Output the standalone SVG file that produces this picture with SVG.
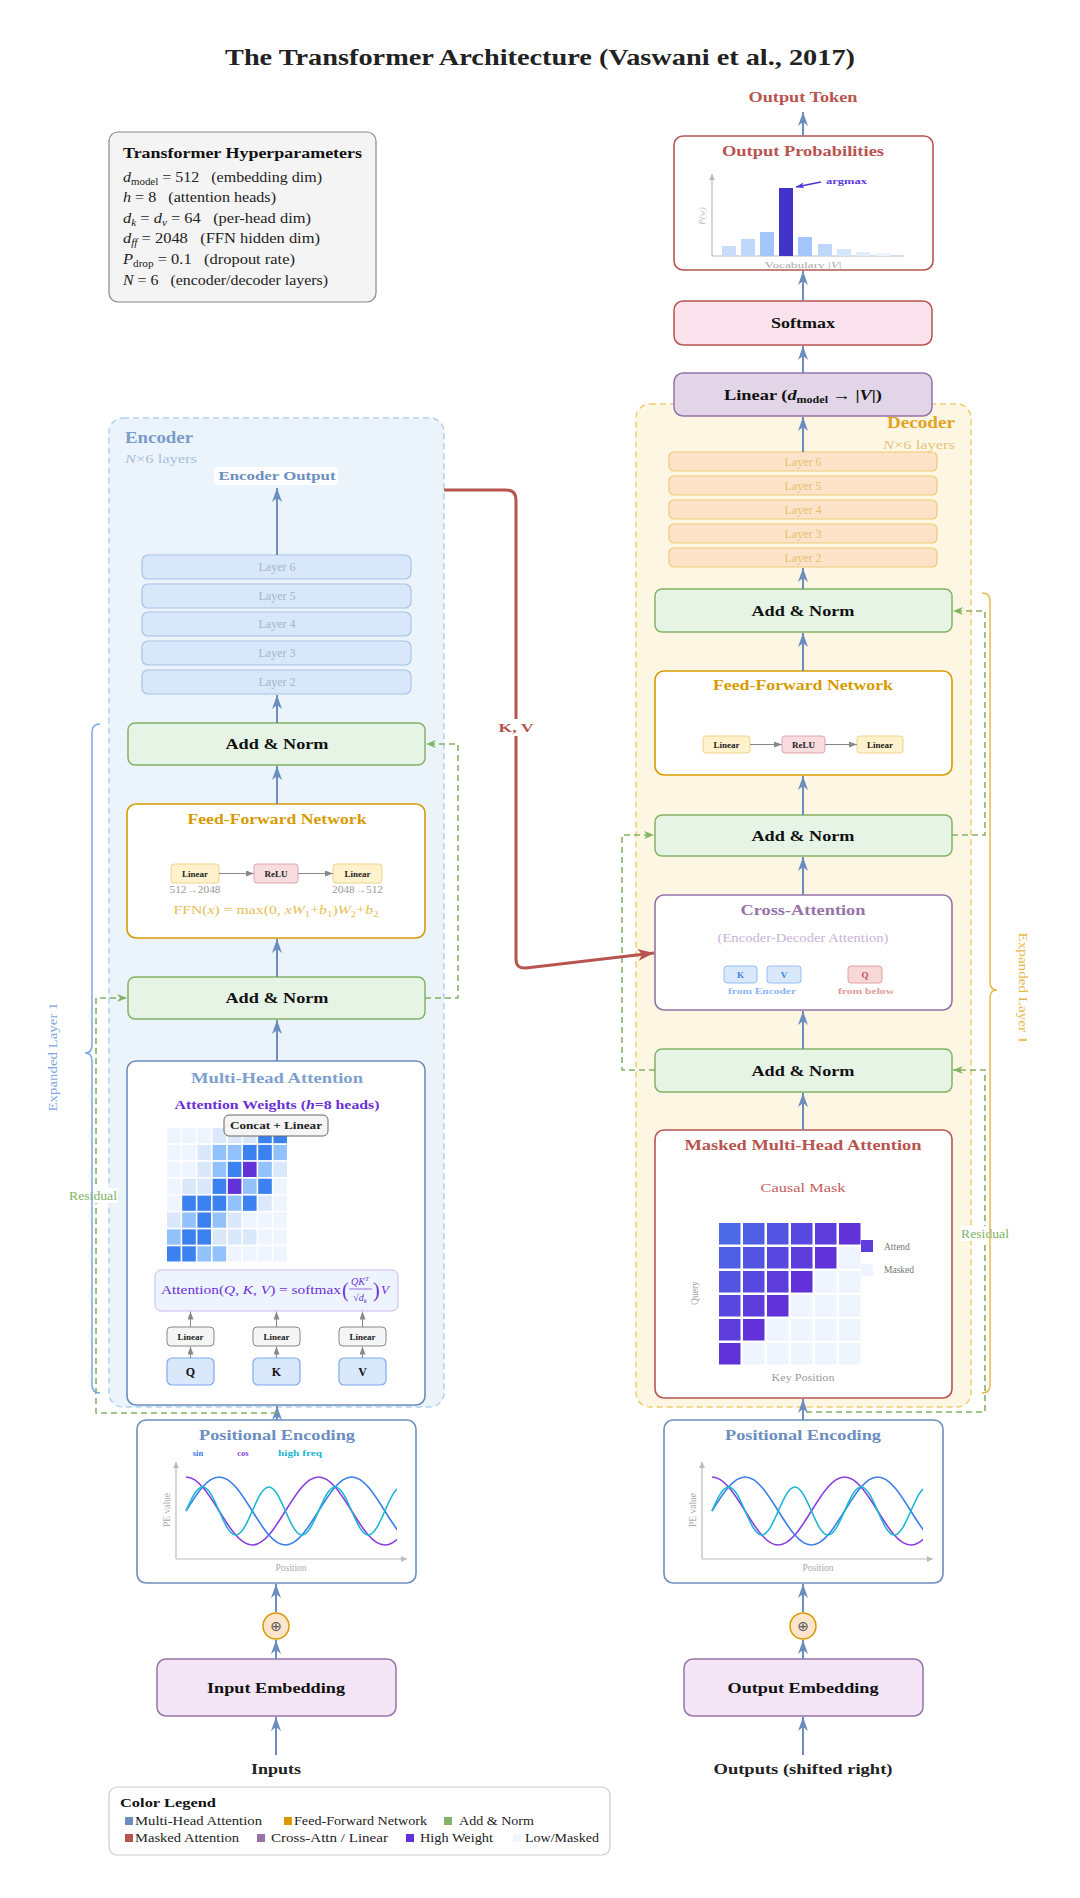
<svg xmlns="http://www.w3.org/2000/svg" width="1080" height="1898" viewBox="0 0 1080 1898">
<style>
text{font-family:"Liberation Serif","DejaVu Serif",serif;}
.b{font-weight:bold;}
.it{font-style:italic;}
.mid{text-anchor:middle;}
.flow{stroke:#6c8ebf;stroke-width:2;fill:none;marker-end:url(#ab);}
.res{stroke:#82b366;stroke-width:1.6;fill:none;stroke-dasharray:6,4;marker-end:url(#ag);}
.mini{stroke:#888;stroke-width:1;fill:none;marker-end:url(#agr);}
.an{fill:#e6f4e6;stroke:#82b366;stroke-width:1.5;}
.wb{fill:#fff;stroke-width:1.6;}
.lyE{fill:#d8e7fa;stroke:#a9c4e8;stroke-width:1.2;}
.lyD{fill:#fde3c8;stroke:#f1c877;stroke-width:1.2;}
.lin{fill:#fff2cc;stroke:#f0d38a;stroke-width:1;}
.relu{fill:#f8dde0;stroke:#e3a3aa;stroke-width:1;}
.gl{fill:#f5f5f5;stroke:#888;stroke-width:1;}
.qkv{fill:#dae8fc;stroke:#7eaaf0;stroke-width:1.2;}
.hv{fill:#eef5fe}.hl{fill:#dbe8fb}.hm{fill:#93c1fb}.hb{fill:#3b82f0}.hp{fill:#6232d9}
.ax{stroke:#bbb;stroke-width:1.2;fill:none;marker-end:url(#aax);}
</style>
<defs>
<marker id="ab" viewBox="0 0 14 10" refX="14" refY="5" markerWidth="14" markerHeight="10" orient="auto" markerUnits="userSpaceOnUse"><path d="M0,0 L14,5 L0,10 L4,5 z" fill="#6c8ebf"/></marker>
<marker id="ar" viewBox="0 0 16 12" refX="16" refY="6" markerWidth="16" markerHeight="12" orient="auto" markerUnits="userSpaceOnUse"><path d="M0,0 L16,6 L0,12 L4,6 z" fill="#b85450"/></marker>
<marker id="ag" viewBox="0 0 10 8" refX="10" refY="4" markerWidth="10" markerHeight="8" orient="auto" markerUnits="userSpaceOnUse"><path d="M0,0 L10,4 L0,8 L3,4 z" fill="#82b366"/></marker>
<marker id="agr" viewBox="0 0 8 6" refX="8" refY="3" markerWidth="8" markerHeight="6" orient="auto" markerUnits="userSpaceOnUse"><path d="M0,0 L8,3 L0,6 z" fill="#888"/></marker>
<marker id="aax" viewBox="0 0 6 6" refX="6" refY="3" markerWidth="6" markerHeight="6" orient="auto" markerUnits="userSpaceOnUse"><path d="M0,0 L6,3 L0,6 z" fill="#bbb"/></marker>
<marker id="ap" viewBox="0 0 8 6" refX="8" refY="3" markerWidth="8" markerHeight="6" orient="auto" markerUnits="userSpaceOnUse"><path d="M0,0 L8,3 L0,6 L2,3 z" fill="#4a35d8"/></marker>
<path id="wsin" d="M0,0 c10.81,-17.42 21.15,-34 33.14,-34 c11.99,0 22.33,16.58 33.14,34 c10.81,17.42 21.15,34 33.14,34 c11.99,0 22.33,-16.58 33.14,-34 c10.81,-17.42 21.15,-34 33.14,-34 c11.99,0 22.33,16.58 33.14,34 c10.81,17.42 21.15,34 33.14,34 c11.99,0 22.33,-16.58 33.14,-34" fill="none" stroke="#3b7dea" stroke-width="1.6"/>
<path id="wcos" d="M0,-34 c11.99,0 22.33,16.58 33.14,34 c10.81,17.42 21.15,34 33.14,34 c11.99,0 22.33,-16.58 33.14,-34 c10.81,-17.42 21.15,-34 33.14,-34 c11.99,0 22.33,16.58 33.14,34 c10.81,17.42 21.15,34 33.14,34 c11.99,0 22.33,-16.58 33.14,-34 c10.81,-17.42 21.15,-34 33.14,-34" fill="none" stroke="#8a3ee0" stroke-width="1.6"/>
<path id="whf" d="M0,0 c5.405,-12.3 10.575,-24 16.57,-24 c5.995,0 11.165,11.7 16.57,24 c5.405,12.3 10.575,24 16.57,24 c5.995,0 11.165,-11.7 16.57,-24 c5.405,-12.3 10.575,-24 16.57,-24 c5.995,0 11.165,11.7 16.57,24 c5.405,12.3 10.575,24 16.57,24 c5.995,0 11.165,-11.7 16.57,-24 c5.405,-12.3 10.575,-24 16.57,-24 c5.995,0 11.165,11.7 16.57,24 c5.405,12.3 10.575,24 16.57,24 c5.995,0 11.165,-11.7 16.57,-24 c5.405,-12.3 10.575,-24 16.57,-24 c5.995,0 11.165,11.7 16.57,24 c5.405,12.3 10.575,24 16.57,24 c5.995,0 11.165,-11.7 16.57,-24" fill="none" stroke="#1cb6d2" stroke-width="1.6"/>
<clipPath id="cpE"><rect x="180" y="1460" width="217" height="100"/></clipPath>
<clipPath id="cpD"><rect x="706" y="1460" width="217" height="100"/></clipPath>
</defs>
<rect width="1080" height="1898" fill="#fff"/>

<text x="540" y="65" class="b mid" font-size="24" fill="#222" textLength="630" lengthAdjust="spacingAndGlyphs">The Transformer Architecture (Vaswani et al., 2017)</text>

<!-- containers -->
<g id="encoder-container">
<rect x="109" y="418" width="335" height="989" rx="14" fill="#ebf3fb" stroke="#b3d1ef" stroke-width="1.5" stroke-dasharray="6,4"/>
<text x="125" y="443" class="b" font-size="17" fill="#7b9bcb" textLength="68" lengthAdjust="spacingAndGlyphs">Encoder</text>
<text x="125" y="463" font-size="13.5" fill="#a9bfdc" textLength="72" lengthAdjust="spacingAndGlyphs"><tspan class="it">N</tspan>×6 layers</text>
</g>
<g id="decoder-container">
<rect x="636" y="404" width="335" height="1003" rx="14" fill="#fdf6e3" stroke="#f0cd6e" stroke-width="1.5" stroke-dasharray="6,4"/>
<text x="955" y="428" class="b" font-size="17" fill="#e0a526" text-anchor="end" textLength="68" lengthAdjust="spacingAndGlyphs">Decoder</text>
<text x="955" y="449" font-size="13.5" fill="#e8c37a" text-anchor="end" textLength="72" lengthAdjust="spacingAndGlyphs"><tspan class="it">N</tspan>×6 layers</text>
</g>

<!-- hyperparameters -->
<g id="hyperparameters">
<rect x="109" y="132" width="267" height="170" rx="9" fill="#f4f4f4" stroke="#888" stroke-width="1.2"/>
<text x="123" y="158" class="b" font-size="14.5" fill="#111" textLength="239" lengthAdjust="spacingAndGlyphs">Transformer Hyperparameters</text>
<text x="123" y="182" font-size="14" fill="#222" xml:space="preserve" textLength="199" lengthAdjust="spacingAndGlyphs"><tspan class="it">d</tspan><tspan font-size="9.5" dy="3">model</tspan><tspan dy="-3"> = 512   (embedding dim)</tspan></text>
<text x="123" y="202" font-size="14" fill="#222" xml:space="preserve" textLength="153" lengthAdjust="spacingAndGlyphs"><tspan class="it">h</tspan> = 8   (attention heads)</text>
<text x="123" y="223" font-size="14" fill="#222" xml:space="preserve" textLength="188" lengthAdjust="spacingAndGlyphs"><tspan class="it">d</tspan><tspan class="it" font-size="9.5" dy="3">k</tspan><tspan dy="-3"> = </tspan><tspan class="it">d</tspan><tspan class="it" font-size="9.5" dy="3">v</tspan><tspan dy="-3"> = 64   (per-head dim)</tspan></text>
<text x="123" y="243" font-size="14" fill="#222" xml:space="preserve" textLength="197" lengthAdjust="spacingAndGlyphs"><tspan class="it">d</tspan><tspan class="it" font-size="9.5" dy="3">ff</tspan><tspan dy="-3"> = 2048   (FFN hidden dim)</tspan></text>
<text x="123" y="264" font-size="14" fill="#222" xml:space="preserve" textLength="172" lengthAdjust="spacingAndGlyphs"><tspan class="it">P</tspan><tspan font-size="9.5" dy="3">drop</tspan><tspan dy="-3"> = 0.1   (dropout rate)</tspan></text>
<text x="123" y="285" font-size="14" fill="#222" xml:space="preserve" textLength="205" lengthAdjust="spacingAndGlyphs"><tspan class="it">N</tspan> = 6   (encoder/decoder layers)</text>
</g>

<!-- decoder top -->
<g id="output-token"><text x="803" y="102" class="b mid" font-size="14" fill="#b85450" textLength="109" lengthAdjust="spacingAndGlyphs">Output Token</text></g>
<g id="output-probabilities">
<rect x="674" y="136" width="259" height="134" rx="9" class="wb" stroke="#b85450"/>
<text x="803" y="156" class="b mid" font-size="15" fill="#b85450" textLength="162" lengthAdjust="spacingAndGlyphs">Output Probabilities</text>
<line x1="712" y1="256" x2="712" y2="174" class="ax"/>
<line x1="712" y1="256" x2="904" y2="256" stroke="#bbb" stroke-width="1.2"/>
<rect x="722" y="246" width="14" height="10" fill="#c9ddfb"/>
<rect x="741" y="239" width="14" height="17" fill="#bfd7fb"/>
<rect x="760" y="232" width="14" height="24" fill="#a3c6fa"/>
<rect x="779" y="188" width="14" height="68" fill="#4133c9"/>
<rect x="798" y="237" width="14" height="19" fill="#a3c6fa"/>
<rect x="818" y="244" width="14" height="12" fill="#bfd7fb"/>
<rect x="837" y="249" width="14" height="7" fill="#d4e5fc"/>
<rect x="856" y="252" width="14" height="4" fill="#e3eefd"/>
<rect x="876" y="253" width="14" height="3" fill="#edf4fe"/>
<line x1="821" y1="182" x2="796" y2="187" stroke="#4a35d8" stroke-width="1.3" marker-end="url(#ap)"/>
<text x="826" y="184" class="b" font-size="9" fill="#5a3ae0" textLength="41" lengthAdjust="spacingAndGlyphs">argmax</text>
<text x="705" y="216" class="it mid" font-size="9" fill="#bbb" transform="rotate(-90 705 216)">P(w)</text>
<text x="803" y="268" class="mid" font-size="9" fill="#aaa" textLength="77" lengthAdjust="spacingAndGlyphs">Vocabulary |<tspan class="it">V</tspan>|</text>
</g>
<g id="softmax">
<rect x="674" y="301" width="258" height="44" rx="9" fill="#fae3ec" stroke="#b85450" stroke-width="1.5"/>
<text x="803" y="328" class="b mid" font-size="14.5" fill="#111" textLength="64" lengthAdjust="spacingAndGlyphs">Softmax</text>
</g>
<g id="linear-out">
<rect x="674" y="373" width="258" height="43" rx="9" fill="#e1d5e7" stroke="#9673a6" stroke-width="1.5"/>
<text x="803" y="400" class="b mid" font-size="14.5" fill="#111" textLength="158" lengthAdjust="spacingAndGlyphs">Linear (<tspan class="it">d</tspan><tspan font-size="9.5" dy="3">model</tspan><tspan dy="-3"> → |</tspan><tspan class="it">V</tspan>|)</text>
</g>

<!-- decoder layers -->
<g id="decoder-layers">
<rect x="669" y="452" width="268" height="19" rx="5" class="lyD"/><text x="803" y="466" class="mid" font-size="12" fill="#e8c070">Layer 6</text>
<rect x="669" y="476" width="268" height="19" rx="5" class="lyD"/><text x="803" y="490" class="mid" font-size="12" fill="#e8c070">Layer 5</text>
<rect x="669" y="500" width="268" height="19" rx="5" class="lyD"/><text x="803" y="514" class="mid" font-size="12" fill="#e8c070">Layer 4</text>
<rect x="669" y="524" width="268" height="19" rx="5" class="lyD"/><text x="803" y="538" class="mid" font-size="12" fill="#e8c070">Layer 3</text>
<rect x="669" y="548" width="268" height="19" rx="5" class="lyD"/><text x="803" y="562" class="mid" font-size="12" fill="#e8c070">Layer 2</text>
</g>
<g id="dec-addnorm-1">
<rect x="655" y="589" width="297" height="43" rx="7" class="an"/>
<text x="803" y="616" class="b mid" font-size="15.5" fill="#111" textLength="103" lengthAdjust="spacingAndGlyphs">Add &amp; Norm</text>
</g>
<g id="dec-ffn">
<rect x="655" y="671" width="297" height="104" rx="9" class="wb" stroke="#d79b00"/>
<text x="803" y="690" class="b mid" font-size="15" fill="#d79b00" textLength="180" lengthAdjust="spacingAndGlyphs">Feed-Forward Network</text>
<rect x="703" y="736" width="47" height="17" rx="3" class="lin"/><text x="726.5" y="748" class="b mid" font-size="9" fill="#222">Linear</text>
<rect x="782" y="736" width="43" height="17" rx="3" class="relu"/><text x="803.5" y="748" class="b mid" font-size="9" fill="#222">ReLU</text>
<rect x="857" y="736" width="46" height="17" rx="3" class="lin"/><text x="880" y="748" class="b mid" font-size="9" fill="#222">Linear</text>
<line x1="750" y1="744.5" x2="782" y2="744.5" class="mini"/>
<line x1="825" y1="744.5" x2="857" y2="744.5" class="mini"/>
</g>
<g id="dec-addnorm-2">
<rect x="655" y="815" width="297" height="41" rx="7" class="an"/>
<text x="803" y="841" class="b mid" font-size="15.5" fill="#111" textLength="103" lengthAdjust="spacingAndGlyphs">Add &amp; Norm</text>
</g>
<g id="cross-attention">
<rect x="655" y="895" width="297" height="115" rx="9" class="wb" stroke="#9673a6"/>
<text x="803" y="915" class="b mid" font-size="15" fill="#9673a6" textLength="125" lengthAdjust="spacingAndGlyphs">Cross-Attention</text>
<text x="803" y="942" class="mid" font-size="12" fill="#c9b3d9" textLength="171" lengthAdjust="spacingAndGlyphs">(Encoder-Decoder Attention)</text>
<rect x="724" y="966" width="33" height="17" rx="3" fill="#dae8fc" stroke="#94bdf7"/><text x="740.5" y="978" class="b mid" font-size="9" fill="#3b82f0">K</text>
<rect x="767" y="966" width="34" height="17" rx="3" fill="#dae8fc" stroke="#94bdf7"/><text x="784" y="978" class="b mid" font-size="9" fill="#3b82f0">V</text>
<rect x="848" y="966" width="34" height="17" rx="3" fill="#f8d7d7" stroke="#e3a0a0"/><text x="865" y="978" class="b mid" font-size="9" fill="#b85450">Q</text>
<text x="762" y="994" class="b mid" font-size="9" fill="#8ab4f8" textLength="68" lengthAdjust="spacingAndGlyphs">from Encoder</text>
<text x="866" y="994" class="b mid" font-size="9" fill="#e09a9a" textLength="56" lengthAdjust="spacingAndGlyphs">from below</text>
</g>
<g id="dec-addnorm-3">
<rect x="655" y="1049" width="297" height="43" rx="7" class="an"/>
<text x="803" y="1076" class="b mid" font-size="15.5" fill="#111" textLength="103" lengthAdjust="spacingAndGlyphs">Add &amp; Norm</text>
</g>
<g id="masked-mha">
<rect x="655" y="1130" width="297" height="268" rx="9" class="wb" stroke="#b85450"/>
<text x="803" y="1150" class="b mid" font-size="15" fill="#b85450" textLength="237" lengthAdjust="spacingAndGlyphs">Masked Multi-Head Attention</text>
<text x="803" y="1192" class="mid" font-size="12" fill="#c86060" textLength="85" lengthAdjust="spacingAndGlyphs">Causal Mask</text>
<g>
<rect x="719" y="1223" width="21.5" height="21.5" fill="#4a6ae8"/><rect x="743" y="1223" width="21.5" height="21.5" fill="#4f5fe5"/><rect x="767" y="1223" width="21.5" height="21.5" fill="#5454e2"/><rect x="791" y="1223" width="21.5" height="21.5" fill="#5848df"/><rect x="815" y="1223" width="21.5" height="21.5" fill="#5d3ddc"/><rect x="839" y="1223" width="21.5" height="21.5" fill="#6232d9"/>
<rect x="719" y="1247" width="21.5" height="21.5" fill="#4f5fe5"/><rect x="743" y="1247" width="21.5" height="21.5" fill="#5454e2"/><rect x="767" y="1247" width="21.5" height="21.5" fill="#5848df"/><rect x="791" y="1247" width="21.5" height="21.5" fill="#5d3ddc"/><rect x="815" y="1247" width="21.5" height="21.5" fill="#6232d9"/><rect x="839" y="1247" width="21.5" height="21.5" fill="#eef5fe"/>
<rect x="719" y="1271" width="21.5" height="21.5" fill="#5454e2"/><rect x="743" y="1271" width="21.5" height="21.5" fill="#5848df"/><rect x="767" y="1271" width="21.5" height="21.5" fill="#5d3ddc"/><rect x="791" y="1271" width="21.5" height="21.5" fill="#6232d9"/><rect x="815" y="1271" width="21.5" height="21.5" fill="#eef5fe"/><rect x="839" y="1271" width="21.5" height="21.5" fill="#eef5fe"/>
<rect x="719" y="1295" width="21.5" height="21.5" fill="#5848df"/><rect x="743" y="1295" width="21.5" height="21.5" fill="#5d3ddc"/><rect x="767" y="1295" width="21.5" height="21.5" fill="#6232d9"/><rect x="791" y="1295" width="21.5" height="21.5" fill="#eef5fe"/><rect x="815" y="1295" width="21.5" height="21.5" fill="#eef5fe"/><rect x="839" y="1295" width="21.5" height="21.5" fill="#eef5fe"/>
<rect x="719" y="1319" width="21.5" height="21.5" fill="#5d3ddc"/><rect x="743" y="1319" width="21.5" height="21.5" fill="#6232d9"/><rect x="767" y="1319" width="21.5" height="21.5" fill="#eef5fe"/><rect x="791" y="1319" width="21.5" height="21.5" fill="#eef5fe"/><rect x="815" y="1319" width="21.5" height="21.5" fill="#eef5fe"/><rect x="839" y="1319" width="21.5" height="21.5" fill="#eef5fe"/>
<rect x="719" y="1343" width="21.5" height="21.5" fill="#6232d9"/><rect x="743" y="1343" width="21.5" height="21.5" fill="#eef5fe"/><rect x="767" y="1343" width="21.5" height="21.5" fill="#eef5fe"/><rect x="791" y="1343" width="21.5" height="21.5" fill="#eef5fe"/><rect x="815" y="1343" width="21.5" height="21.5" fill="#eef5fe"/><rect x="839" y="1343" width="21.5" height="21.5" fill="#eef5fe"/>
</g>
<rect x="861" y="1240" width="12" height="12" fill="#5d3ddc"/>
<text x="884" y="1250" font-size="9.5" fill="#777">Attend</text>
<rect x="861" y="1264" width="12" height="12" fill="#eef5fe"/>
<text x="884" y="1273" font-size="9.5" fill="#777">Masked</text>
<text x="698" y="1293" class="mid" font-size="9.5" fill="#999" transform="rotate(-90 698 1293)">Query</text>
<text x="803" y="1381" class="mid" font-size="9.5" fill="#999" textLength="63" lengthAdjust="spacingAndGlyphs">Key Position</text>
</g>

<!-- encoder stack -->
<g id="encoder-output">
<rect x="214" y="467" width="124" height="18" rx="3" fill="#fff" fill-opacity="0.85"/>
<text x="277" y="480" class="b mid" font-size="12.5" fill="#6c8ebf" textLength="117" lengthAdjust="spacingAndGlyphs">Encoder Output</text>
</g>
<g id="encoder-layers">
<rect x="142" y="555" width="269" height="24" rx="6" class="lyE"/><text x="277" y="571" class="mid" font-size="12" fill="#a5b5cb">Layer 6</text>
<rect x="142" y="584" width="269" height="24" rx="6" class="lyE"/><text x="277" y="600" class="mid" font-size="12" fill="#a5b5cb">Layer 5</text>
<rect x="142" y="612" width="269" height="24" rx="6" class="lyE"/><text x="277" y="628" class="mid" font-size="12" fill="#a5b5cb">Layer 4</text>
<rect x="142" y="641" width="269" height="24" rx="6" class="lyE"/><text x="277" y="657" class="mid" font-size="12" fill="#a5b5cb">Layer 3</text>
<rect x="142" y="670" width="269" height="24" rx="6" class="lyE"/><text x="277" y="686" class="mid" font-size="12" fill="#a5b5cb">Layer 2</text>
</g>
<g id="enc-addnorm-1">
<rect x="128" y="723" width="297" height="42" rx="7" class="an"/>
<text x="277" y="749" class="b mid" font-size="15.5" fill="#111" textLength="103" lengthAdjust="spacingAndGlyphs">Add &amp; Norm</text>
</g>
<g id="enc-ffn">
<rect x="127" y="804" width="298" height="134" rx="9" class="wb" stroke="#d79b00"/>
<text x="277" y="824" class="b mid" font-size="15" fill="#d79b00" textLength="179" lengthAdjust="spacingAndGlyphs">Feed-Forward Network</text>
<rect x="171" y="864" width="48" height="19" rx="3" class="lin"/><text x="195" y="877" class="b mid" font-size="9" fill="#222">Linear</text>
<rect x="254" y="864" width="44" height="19" rx="3" class="relu"/><text x="276" y="877" class="b mid" font-size="9" fill="#222">ReLU</text>
<rect x="333" y="864" width="49" height="19" rx="3" class="lin"/><text x="357.5" y="877" class="b mid" font-size="9" fill="#222">Linear</text>
<line x1="219" y1="873.5" x2="254" y2="873.5" class="mini"/>
<line x1="298" y1="873.5" x2="333" y2="873.5" class="mini"/>
<text x="195" y="893" class="mid" font-size="10" fill="#999" textLength="51" lengthAdjust="spacingAndGlyphs">512→2048</text>
<text x="357.5" y="893" class="mid" font-size="10" fill="#999" textLength="51" lengthAdjust="spacingAndGlyphs">2048→512</text>
<text x="276" y="914" class="mid" font-size="13" fill="#e8bd55" textLength="205" lengthAdjust="spacingAndGlyphs">FFN(<tspan class="it">x</tspan>) = max(0, <tspan class="it">xW</tspan><tspan font-size="9" dy="3">1</tspan><tspan dy="-3">+</tspan><tspan class="it">b</tspan><tspan font-size="9" dy="3">1</tspan><tspan dy="-3">)</tspan><tspan class="it">W</tspan><tspan font-size="9" dy="3">2</tspan><tspan dy="-3">+</tspan><tspan class="it">b</tspan><tspan font-size="9" dy="3">2</tspan></text>
</g>
<g id="enc-addnorm-2">
<rect x="128" y="977" width="297" height="42" rx="7" class="an"/>
<text x="277" y="1003" class="b mid" font-size="15.5" fill="#111" textLength="103" lengthAdjust="spacingAndGlyphs">Add &amp; Norm</text>
</g>
<g id="enc-mha">
<rect x="127" y="1061" width="298" height="344" rx="9" class="wb" stroke="#6c8ebf"/>
<text x="277" y="1083" class="b mid" font-size="15" fill="#7e9fcf" textLength="172" lengthAdjust="spacingAndGlyphs">Multi-Head Attention</text>
<text x="277" y="1109" class="b mid" font-size="12" fill="#6a30d8" textLength="205" lengthAdjust="spacingAndGlyphs">Attention Weights (<tspan class="it">h</tspan>=8 heads)</text>
<g id="heatmap">
<g transform="translate(0,1128)"><rect x="167" width="13.6" height="15.2" class="hv"/><rect x="182.2" width="13.6" height="15.2" class="hv"/><rect x="197.4" width="13.6" height="15.2" class="hv"/><rect x="212.6" width="13.6" height="15.2" class="hl"/><rect x="227.8" width="13.6" height="15.2" class="hl"/><rect x="243" width="13.6" height="15.2" class="hl"/><rect x="258.2" width="13.6" height="15.2" class="hb"/><rect x="273.4" width="13.6" height="15.2" class="hb"/></g>
<g transform="translate(0,1144.9)"><rect x="167" width="13.6" height="15.2" class="hv"/><rect x="182.2" width="13.6" height="15.2" class="hv"/><rect x="197.4" width="13.6" height="15.2" class="hl"/><rect x="212.6" width="13.6" height="15.2" class="hm"/><rect x="227.8" width="13.6" height="15.2" class="hm"/><rect x="243" width="13.6" height="15.2" class="hb"/><rect x="258.2" width="13.6" height="15.2" class="hb"/><rect x="273.4" width="13.6" height="15.2" class="hm"/></g>
<g transform="translate(0,1161.8)"><rect x="167" width="13.6" height="15.2" class="hv"/><rect x="182.2" width="13.6" height="15.2" class="hv"/><rect x="197.4" width="13.6" height="15.2" class="hl"/><rect x="212.6" width="13.6" height="15.2" class="hm"/><rect x="227.8" width="13.6" height="15.2" class="hb"/><rect x="243" width="13.6" height="15.2" class="hp"/><rect x="258.2" width="13.6" height="15.2" class="hm"/><rect x="273.4" width="13.6" height="15.2" class="hl"/></g>
<g transform="translate(0,1178.7)"><rect x="167" width="13.6" height="15.2" class="hv"/><rect x="182.2" width="13.6" height="15.2" class="hl"/><rect x="197.4" width="13.6" height="15.2" class="hl"/><rect x="212.6" width="13.6" height="15.2" class="hb"/><rect x="227.8" width="13.6" height="15.2" class="hp"/><rect x="243" width="13.6" height="15.2" class="hm"/><rect x="258.2" width="13.6" height="15.2" class="hb"/><rect x="273.4" width="13.6" height="15.2" class="hv"/></g>
<g transform="translate(0,1195.6)"><rect x="167" width="13.6" height="15.2" class="hv"/><rect x="182.2" width="13.6" height="15.2" class="hb"/><rect x="197.4" width="13.6" height="15.2" class="hb"/><rect x="212.6" width="13.6" height="15.2" class="hb"/><rect x="227.8" width="13.6" height="15.2" class="hm"/><rect x="243" width="13.6" height="15.2" class="hb"/><rect x="258.2" width="13.6" height="15.2" class="hl"/><rect x="273.4" width="13.6" height="15.2" class="hv"/></g>
<g transform="translate(0,1212.5)"><rect x="167" width="13.6" height="15.2" class="hl"/><rect x="182.2" width="13.6" height="15.2" class="hm"/><rect x="197.4" width="13.6" height="15.2" class="hb"/><rect x="212.6" width="13.6" height="15.2" class="hm"/><rect x="227.8" width="13.6" height="15.2" class="hl"/><rect x="243" width="13.6" height="15.2" class="hv"/><rect x="258.2" width="13.6" height="15.2" class="hv"/><rect x="273.4" width="13.6" height="15.2" class="hv"/></g>
<g transform="translate(0,1229.4)"><rect x="167" width="13.6" height="15.2" class="hm"/><rect x="182.2" width="13.6" height="15.2" class="hb"/><rect x="197.4" width="13.6" height="15.2" class="hb"/><rect x="212.6" width="13.6" height="15.2" class="hl"/><rect x="227.8" width="13.6" height="15.2" class="hl"/><rect x="243" width="13.6" height="15.2" class="hl"/><rect x="258.2" width="13.6" height="15.2" class="hv"/><rect x="273.4" width="13.6" height="15.2" class="hv"/></g>
<g transform="translate(0,1246.3)"><rect x="167" width="13.6" height="15.2" class="hb"/><rect x="182.2" width="13.6" height="15.2" class="hb"/><rect x="197.4" width="13.6" height="15.2" class="hm"/><rect x="212.6" width="13.6" height="15.2" class="hm"/><rect x="227.8" width="13.6" height="15.2" class="hv"/><rect x="243" width="13.6" height="15.2" class="hv"/><rect x="258.2" width="13.6" height="15.2" class="hv"/><rect x="273.4" width="13.6" height="15.2" class="hv"/></g>
</g>
<rect x="224" y="1115" width="104" height="21" rx="5" fill="#f5f5f5" stroke="#666" stroke-width="1"/>
<text x="276" y="1129" class="b mid" font-size="10" fill="#222" textLength="92" lengthAdjust="spacingAndGlyphs">Concat + Linear</text>
<rect x="155" y="1270" width="243" height="41" rx="6" fill="#eef4fe" stroke="#c9b9f3" stroke-width="1"/>
<text x="161" y="1294" font-size="13" fill="#6a30d8" textLength="180" lengthAdjust="spacingAndGlyphs">Attention(<tspan class="it">Q</tspan>, <tspan class="it">K</tspan>, <tspan class="it">V</tspan>) = softmax</text>
<text x="342" y="1297" font-size="20" fill="#6a30d8">(</text>
<text x="360" y="1285" class="mid" font-size="10" fill="#6a30d8"><tspan class="it">QK</tspan><tspan class="it" font-size="7" dy="-4">T</tspan></text>
<line x1="349" y1="1289" x2="372" y2="1289" stroke="#6a30d8" stroke-width="0.7"/>
<text x="360" y="1301" class="mid" font-size="10" fill="#6a30d8">√<tspan class="it">d</tspan><tspan class="it" font-size="7" dy="2">k</tspan></text>
<text x="373" y="1297" font-size="20" fill="#6a30d8">)</text>
<text x="381" y="1294" class="it" font-size="13" fill="#6a30d8">V</text>
<rect x="167" y="1327" width="47" height="19" rx="4" class="gl"/><text x="190.5" y="1340" class="b mid" font-size="9" fill="#222">Linear</text>
<rect x="253" y="1327" width="47" height="19" rx="4" class="gl"/><text x="276.5" y="1340" class="b mid" font-size="9" fill="#222">Linear</text>
<rect x="339" y="1327" width="47" height="19" rx="4" class="gl"/><text x="362.5" y="1340" class="b mid" font-size="9" fill="#222">Linear</text>
<rect x="167" y="1358" width="47" height="27" rx="5" class="qkv"/><text x="190.5" y="1376" class="b mid" font-size="12" fill="#111">Q</text>
<rect x="253" y="1358" width="47" height="27" rx="5" class="qkv"/><text x="276.5" y="1376" class="b mid" font-size="12" fill="#111">K</text>
<rect x="339" y="1358" width="47" height="27" rx="5" class="qkv"/><text x="362.5" y="1376" class="b mid" font-size="12" fill="#111">V</text>
<line x1="190.5" y1="1358" x2="190.5" y2="1346.5" class="mini"/><line x1="276.5" y1="1358" x2="276.5" y2="1346.5" class="mini"/><line x1="362.5" y1="1358" x2="362.5" y2="1346.5" class="mini"/>
<line x1="190.5" y1="1327" x2="190.5" y2="1311.5" class="mini"/><line x1="276.5" y1="1327" x2="276.5" y2="1311.5" class="mini"/><line x1="362.5" y1="1327" x2="362.5" y2="1311.5" class="mini"/>
</g>

<!-- positional encodings -->
<g id="enc-pe">
<rect x="137" y="1420" width="279" height="163" rx="9" class="wb" stroke="#6c8ebf"/>
<text x="277" y="1440" class="b mid" font-size="15" fill="#6c8ebf" textLength="156" lengthAdjust="spacingAndGlyphs">Positional Encoding</text>
<text x="198" y="1456" class="b mid" font-size="8.5" fill="#3b7dea">sin</text>
<text x="243" y="1456" class="b mid" font-size="8.5" fill="#8a3ee0">cos</text>
<text x="300" y="1456" class="b mid" font-size="8.5" fill="#1cb6d2" textLength="44" lengthAdjust="spacingAndGlyphs">high freq</text>
<line x1="176" y1="1559" x2="176" y2="1462" class="ax"/>
<line x1="176" y1="1559" x2="407" y2="1559" class="ax"/>
<g clip-path="url(#cpE)"><use href="#wcos" x="186" y="1511"/><use href="#wsin" x="186" y="1511"/><use href="#whf" x="186" y="1511"/></g>
<text x="170" y="1510" class="mid" font-size="9.5" fill="#aaa" transform="rotate(-90 170 1510)">PE value</text>
<text x="291" y="1571" class="mid" font-size="9.5" fill="#aaa">Position</text>
</g>
<g id="dec-pe">
<rect x="664" y="1420" width="279" height="163" rx="9" class="wb" stroke="#6c8ebf"/>
<text x="803" y="1440" class="b mid" font-size="15" fill="#6c8ebf" textLength="156" lengthAdjust="spacingAndGlyphs">Positional Encoding</text>
<line x1="702" y1="1559" x2="702" y2="1462" class="ax"/>
<line x1="702" y1="1559" x2="933" y2="1559" class="ax"/>
<g clip-path="url(#cpD)"><use href="#wcos" x="712" y="1511"/><use href="#wsin" x="712" y="1511"/><use href="#whf" x="712" y="1511"/></g>
<text x="696" y="1510" class="mid" font-size="9.5" fill="#aaa" transform="rotate(-90 696 1510)">PE value</text>
<text x="818" y="1571" class="mid" font-size="9.5" fill="#aaa">Position</text>
</g>
<g id="enc-add"><circle cx="276" cy="1626" r="13" fill="#fde4cc" stroke="#d79b00" stroke-width="1.5"/><text x="276" y="1631" class="mid" font-size="14" fill="#555" style="font-family:'DejaVu Sans',sans-serif">⊕</text></g>
<g id="dec-add"><circle cx="803" cy="1626" r="13" fill="#fde4cc" stroke="#d79b00" stroke-width="1.5"/><text x="803" y="1631" class="mid" font-size="14" fill="#555" style="font-family:'DejaVu Sans',sans-serif">⊕</text></g>
<g id="input-embedding">
<rect x="157" y="1659" width="239" height="57" rx="9" fill="#f3e5f5" stroke="#9673a6" stroke-width="1.5"/>
<text x="276" y="1693" class="b mid" font-size="14.5" fill="#111" textLength="138" lengthAdjust="spacingAndGlyphs">Input Embedding</text>
</g>
<g id="output-embedding">
<rect x="684" y="1659" width="239" height="57" rx="9" fill="#f3e5f5" stroke="#9673a6" stroke-width="1.5"/>
<text x="803" y="1693" class="b mid" font-size="14.5" fill="#111" textLength="151" lengthAdjust="spacingAndGlyphs">Output Embedding</text>
</g>
<g id="inputs"><text x="276" y="1774" class="b mid" font-size="14.5" fill="#222" textLength="50" lengthAdjust="spacingAndGlyphs">Inputs</text></g>
<g id="outputs"><text x="803" y="1774" class="b mid" font-size="14.5" fill="#222" textLength="179" lengthAdjust="spacingAndGlyphs">Outputs (shifted right)</text></g>

<!-- connectors -->
<g id="connectors">
<line x1="803" y1="136" x2="803" y2="112" class="flow"/>
<line x1="803" y1="301" x2="803" y2="271" class="flow"/>
<line x1="803" y1="373" x2="803" y2="346" class="flow"/>
<line x1="803" y1="452" x2="803" y2="417" class="flow"/>
<line x1="803" y1="589" x2="803" y2="568" class="flow"/>
<line x1="803" y1="671" x2="803" y2="633" class="flow"/>
<line x1="803" y1="815" x2="803" y2="776" class="flow"/>
<line x1="803" y1="895" x2="803" y2="857" class="flow"/>
<line x1="803" y1="1049" x2="803" y2="1011" class="flow"/>
<line x1="803" y1="1130" x2="803" y2="1093" class="flow"/>
<line x1="803" y1="1420" x2="803" y2="1399" class="flow"/>
<line x1="803" y1="1612" x2="803" y2="1584" class="flow"/>
<line x1="803" y1="1659" x2="803" y2="1640" class="flow"/>
<line x1="803" y1="1755" x2="803" y2="1717" class="flow"/>
<line x1="277" y1="555" x2="277" y2="488" class="flow"/>
<line x1="277" y1="723" x2="277" y2="695" class="flow"/>
<line x1="277" y1="804" x2="277" y2="766" class="flow"/>
<line x1="277" y1="977" x2="277" y2="939" class="flow"/>
<line x1="277" y1="1061" x2="277" y2="1020" class="flow"/>
<line x1="277" y1="1420" x2="277" y2="1406" class="flow"/>
<line x1="276" y1="1612" x2="276" y2="1584" class="flow"/>
<line x1="276" y1="1659" x2="276" y2="1640" class="flow"/>
<line x1="276" y1="1755" x2="276" y2="1717" class="flow"/>
<path d="M277,1413 L96,1413 L96,998 L127,998" class="res"/>
<path d="M425,998 L458,998 L458,744 L426,744" class="res"/>
<path d="M806,1412 L985,1412 L985,1070 L953,1070" class="res"/>
<path d="M655,1070 L622,1070 L622,835 L654,835" class="res"/>
<path d="M952,835 L985,835 L985,611 L953,611" class="res"/>
<path d="M444,490 L506,490 Q516,490 516,500 L516,959 Q516,969 526,968 L654,953" fill="none" stroke="#b85450" stroke-width="3" marker-end="url(#ar)"/>
<rect x="498" y="719" width="36" height="17" fill="#fff"/>
<text x="516" y="732" class="b mid" font-size="12.5" fill="#b85450" textLength="35" lengthAdjust="spacingAndGlyphs">K, V</text>
<rect x="69" y="1188" width="49" height="15" fill="#fff"/>
<text x="93" y="1200" class="mid" font-size="12" fill="#82b366" textLength="48" lengthAdjust="spacingAndGlyphs">Residual</text>
<rect x="960" y="1226" width="50" height="15" fill="#fff"/>
<text x="985" y="1238" class="mid" font-size="12" fill="#82b366" textLength="48" lengthAdjust="spacingAndGlyphs">Residual</text>
</g>

<g id="braces">
<path d="M100,724 Q92,724 92,732 L92,1045 Q92,1053 85,1053 Q92,1053 92,1061 L92,1385 Q92,1393 100,1393" fill="none" stroke="#7ea6e0" stroke-width="1.5"/>
<text x="57" y="1057" class="mid" font-size="12.5" fill="#7ea6e0" transform="rotate(-90 57 1057)" textLength="109" lengthAdjust="spacingAndGlyphs">Expanded Layer 1</text>
<path d="M982,593 Q990,593 990,601 L990,982 Q990,990 997,990 Q990,990 990,998 L990,1385 Q990,1393 982,1393" fill="none" stroke="#e8b84a" stroke-width="1.5"/>
<text x="1019" y="988" class="mid" font-size="12.5" fill="#e8b84a" transform="rotate(90 1019 988)" textLength="111" lengthAdjust="spacingAndGlyphs">Expanded Layer 1</text>
</g>

<g id="legend">
<rect x="109" y="1787" width="501" height="68" rx="8" fill="#fff" stroke="#ccc" stroke-width="1.2"/>
<text x="120" y="1807" class="b" font-size="13" fill="#111" textLength="96" lengthAdjust="spacingAndGlyphs">Color Legend</text>
<rect x="125" y="1817" width="8" height="8" fill="#6c8ebf"/><text x="135" y="1825" font-size="11.5" fill="#222" textLength="127" lengthAdjust="spacingAndGlyphs">Multi-Head Attention</text>
<rect x="284" y="1817" width="8" height="8" fill="#d79b00"/><text x="294" y="1825" font-size="11.5" fill="#222" textLength="133" lengthAdjust="spacingAndGlyphs">Feed-Forward Network</text>
<rect x="444" y="1817" width="8" height="8" fill="#82b366"/><text x="459" y="1825" font-size="11.5" fill="#222" textLength="75" lengthAdjust="spacingAndGlyphs">Add &amp; Norm</text>
<rect x="125" y="1834" width="8" height="8" fill="#b85450"/><text x="135" y="1842" font-size="11.5" fill="#222" textLength="104" lengthAdjust="spacingAndGlyphs">Masked Attention</text>
<rect x="257" y="1834" width="8" height="8" fill="#9673a6"/><text x="271" y="1842" font-size="11.5" fill="#222" textLength="117" lengthAdjust="spacingAndGlyphs">Cross-Attn / Linear</text>
<rect x="406" y="1834" width="8" height="8" fill="#6232d9"/><text x="420" y="1842" font-size="11.5" fill="#222" textLength="73" lengthAdjust="spacingAndGlyphs">High Weight</text>
<rect x="513" y="1834" width="8" height="8" fill="#eef5fe"/><text x="525" y="1842" font-size="11.5" fill="#222" textLength="74" lengthAdjust="spacingAndGlyphs">Low/Masked</text>
</g>
</svg>
